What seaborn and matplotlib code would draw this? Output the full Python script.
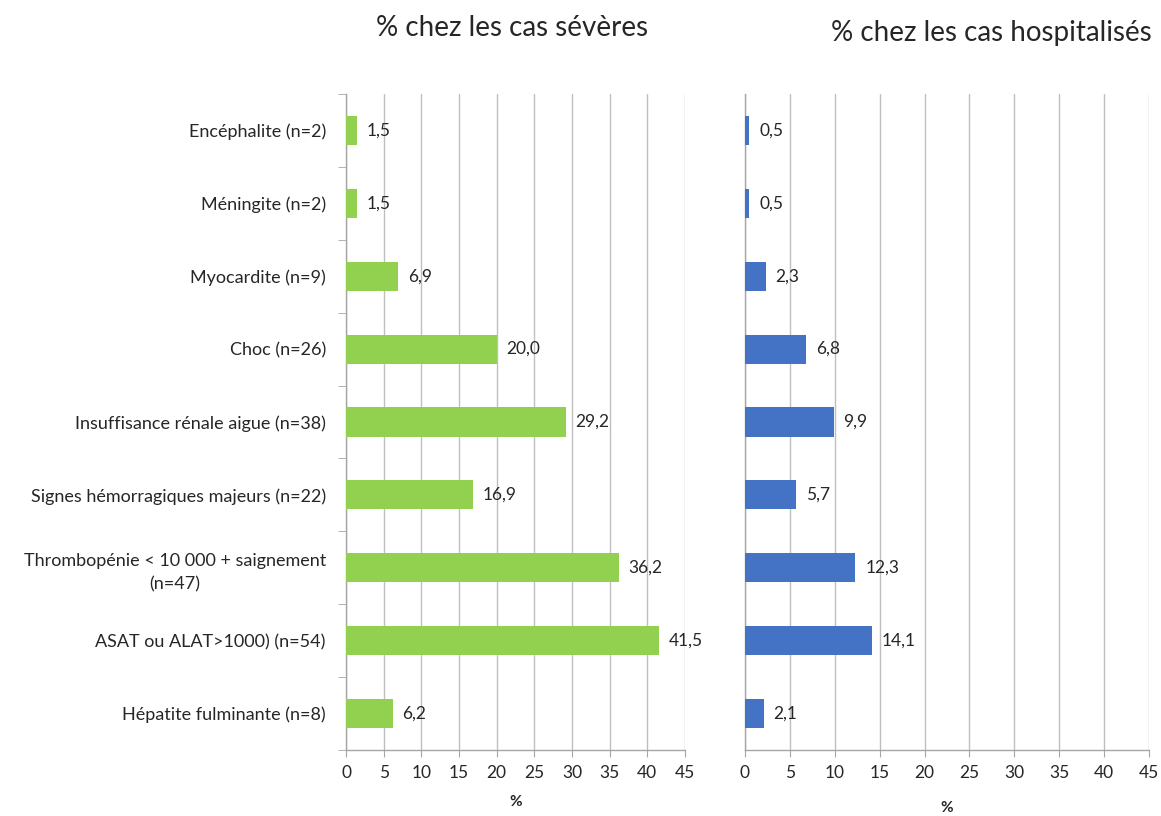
import numpy as np
import pandas as pd
import matplotlib.pyplot as plt
import seaborn as sns

# categories (top to bottom) and values
categories = ["Encéphalite (n=2)", "Méningite (n=2)", "Myocardite (n=9)", "Choc (n=26)",
              "Insuffisance rénale aigue (n=38)", "Signes hémorragiques majeurs (n=22)",
              "Thrombopénie < 10 000 + saignement\n(n=47)", "ASAT ou ALAT>1000) (n=54)",
              "Hépatite fulminante (n=8)"]
severes = [1.5, 1.5, 6.9, 20.0, 29.2, 16.9, 36.2, 41.5, 6.2]
hospitalises = [0.5, 0.5, 2.3, 6.8, 9.9, 5.7, 12.3, 14.1, 2.1]
xticks = [0, 5, 10, 15, 20, 25, 30, 35, 40, 45]

df = pd.DataFrame({"cat": categories, "sev": severes, "hosp": hospitalises})

sns.set_style("white")
plt.rcParams['font.family'] = ['Lato', 'DejaVu Sans']
plt.rcParams['text.color'] = '#262626'

fig = plt.figure(figsize=(11.61, 8.16), dpi=100)
ax1 = fig.add_axes([346/1161, 1-750/816, (685-346)/1161, (750-94)/816])
ax2 = fig.add_axes([745/1161, 1-750/816, (1149-745)/1161, (750-94)/816])

#draw both panels
for ax, col, color in [(ax1, "sev", "#92D050"), (ax2, "hosp", "#4472C4")]:
    sns.barplot(data=df, x=col, y="cat", ax=ax, color=color, width=0.4,
                saturation=1, orient='h', linewidth=0, zorder=3)
    for i, v in enumerate(df[col]):
        ax.annotate(f"{v:.1f}".replace(".", ","), (v, i), xytext=(7, 0),
                    textcoords="offset points", va="center", ha="left",
                    fontsize=12.5, color='#262626')
    ax.set_xlim(0, 45)
    ax.set_ylim(len(categories)-0.5, -0.5)
    ax.set_xticks(xticks)
    ax.grid(axis='x', color='#BFBFBF', linewidth=1, zorder=0)
    ax.set_axisbelow(True)
    for s in ['top', 'right']:
        ax.spines[s].set_visible(False)
    for s in ['left', 'bottom']:
        ax.spines[s].set_color('#A6A6A6')
        ax.spines[s].set_linewidth(1)
    ax.tick_params(axis='x', bottom=True, length=5, color='#A6A6A6', labelsize=12.5,
                   labelcolor='#262626', pad=6)
    ax.set_ylabel("")
    ax.set_xlabel("%", fontsize=11, fontweight='bold', labelpad=10)

ax1.tick_params(axis='y', left=False, labelsize=13, labelcolor='#262626', pad=11)
for lbl in ax1.get_yticklabels():
    lbl.set_multialignment('center')
    lbl.set_linespacing(1.55)
ax1.set_yticks(np.arange(len(categories)+1) - 0.5, minor=True)
ax1.tick_params(axis='y', which='minor', left=True, length=6, color='#A6A6A6')
ax2.set_yticks([])
ax2.xaxis.labelpad = 14

fig.text(512/1161, 1-28/816, "% chez les cas sévères", ha='center', va='center', fontsize=20)
fig.text(991/1161, 1-33/816, "% chez les cas hospitalisés", ha='center', va='center', fontsize=20)

fig.savefig("out.png", dpi=100)
